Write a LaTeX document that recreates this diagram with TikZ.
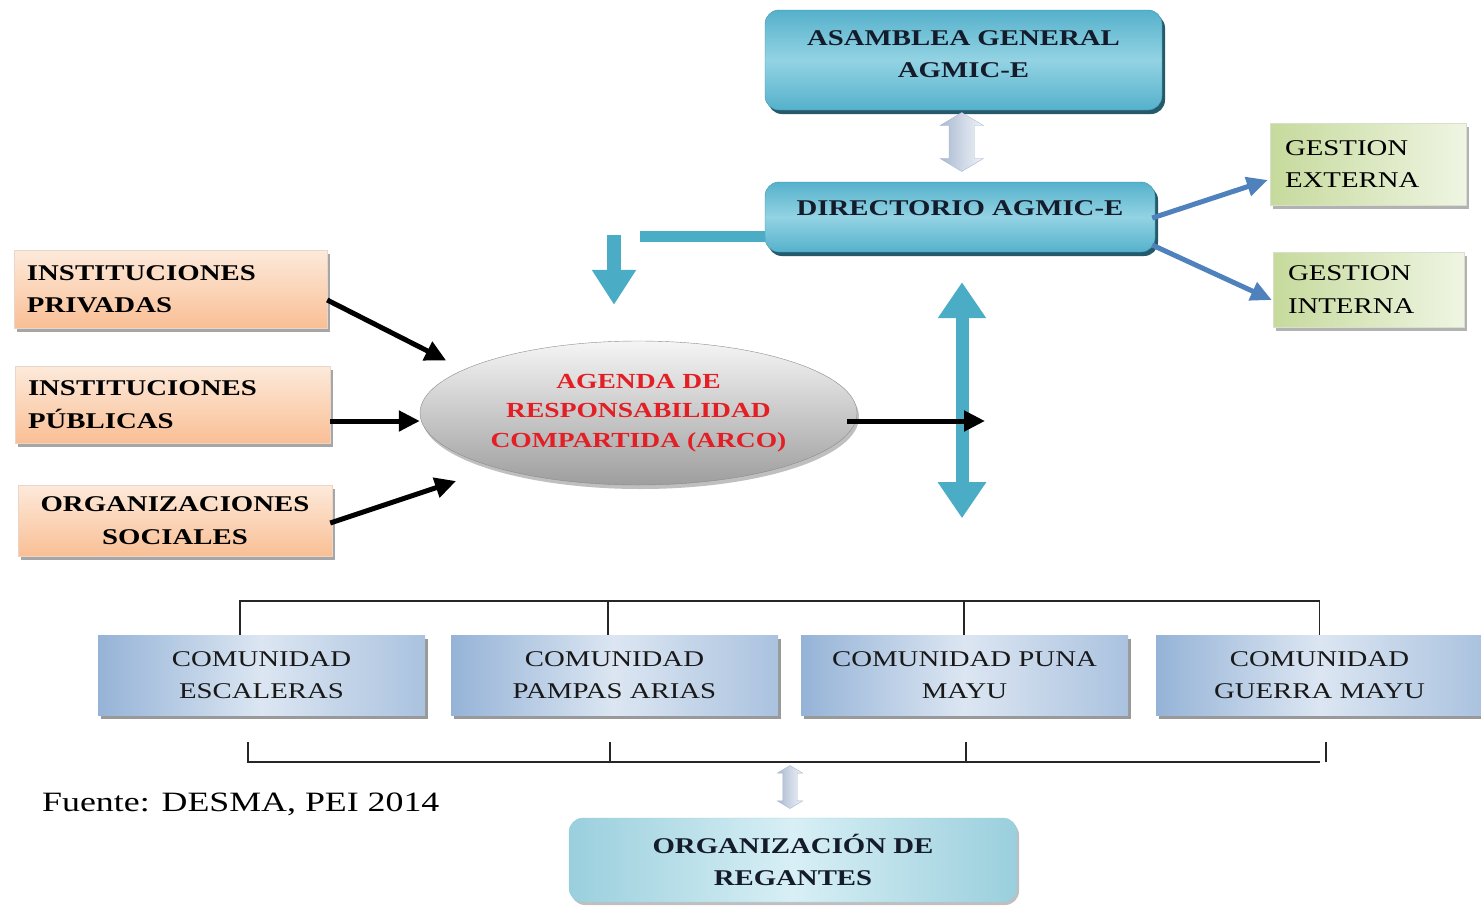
\documentclass[tikz,border=0pt]{standalone}
\usepackage{fontspec}
\setmainfont[FakeStretch=1.28]{Liberation Serif}
\usetikzlibrary{shapes.geometric,shapes.arrows,shadows,arrows.meta,calc}

\definecolor{tealtop}{HTML}{55B1CB}
\definecolor{teallight}{HTML}{93D3E3}
\definecolor{tealedge}{HTML}{3D93AC}
\definecolor{tealshadow}{HTML}{245A6B}
\definecolor{tealarrow}{HTML}{4BACC6}
\definecolor{navytext}{HTML}{141B2B}
\definecolor{orangedark}{HTML}{F9BF95}
\definecolor{orangelight}{HTML}{FDEADB}
\definecolor{greendark}{HTML}{C6DA9C}
\definecolor{greenlight}{HTML}{EFF5E3}
\definecolor{bluedark}{HTML}{95B3D7}
\definecolor{bluelight}{HTML}{DCE6F2}
\definecolor{steelblue}{HTML}{4F81BD}
\definecolor{agendared}{HTML}{E31E24}
\definecolor{regtealedge}{HTML}{9ACFDD}
\definecolor{regteallight}{HTML}{D8EFF5}
\definecolor{hollowdark}{HTML}{A9B9D0}
\definecolor{hollowlight}{HTML}{F1F4F9}

\newcommand{\boxfont}{\fontsize{22.5}{32.5}\selectfont}

\begin{document}
\begin{tikzpicture}[x=1pt,y=-1pt,
        tealbox/.style={rounded corners=14pt,draw=tealedge,top color=tealtop,bottom color=tealtop,middle color=teallight,
            drop shadow={shadow xshift=3pt,shadow yshift=-4pt,fill=tealshadow,opacity=1},
            font=\boxfont\bfseries,text=navytext,align=center,inner sep=0pt},
        orangebox/.style={draw=orangedark!80!black!40,top color=orangelight,bottom color=orangedark,
            drop shadow={shadow xshift=3pt,shadow yshift=-4pt,fill=black!35,opacity=1},
            font=\boxfont\bfseries,text=black,inner xsep=13pt,inner ysep=0pt},
        greenbox/.style={draw=greendark!80!black!40,left color=greendark,right color=greenlight,
            drop shadow={shadow xshift=3pt,shadow yshift=-4pt,fill=black!30,opacity=1},
            font=\boxfont,text=black,align=left,inner xsep=15pt,inner ysep=0pt},
        comubox/.style={left color=bluedark,right color=bluedark!80,middle color=bluelight,
            drop shadow={shadow xshift=3pt,shadow yshift=-4pt,fill=black!40,opacity=1},
            font=\boxfont,text=black!90,align=center,inner sep=0pt,minimum width=327pt,minimum height=80pt},
        dblarrow/.style={double arrow,shape border rotate=90,double arrow tip angle=118,draw=hollowdark,
            left color=hollowdark,right color=hollowlight},
        inarrow/.style={-{Triangle[width=20pt,length=21pt]},line width=5pt,black},
        outarrow/.style={-{Triangle[width=19pt,length=21pt]},line width=5pt,steelblue},
        bracket/.style={line width=1.4pt,black!85}
    ]
        \useasboundingbox (0,0) rectangle (1481,906);
        \clip (0,0) rectangle (1481,906);

        % Define the nodes
        \node[tealbox,minimum width=397pt,minimum height=100pt,text height=50pt,text depth=15pt] (asamblea) at (963.5,60) {ASAMBLEA GENERAL\\AGMIC-E};
        \node[tealbox,minimum width=390pt,minimum height=70pt,text depth=18pt] (directorio) at (960,217) {DIRECTORIO AGMIC-E};
        \node[greenbox,text width=166pt,minimum height=82pt] (gestext) at (1368,164) {GESTION\\EXTERNA};
        \node[greenbox,text width=161pt,minimum height=75pt] (gesint) at (1368.5,289.5) {GESTION\\INTERNA};

        \node[orangebox,text width=287pt,align=left,minimum height=78pt] (privadas) at (170.5,289) {INSTITUCIONES\\PRIVADAS};
        \node[orangebox,text width=289pt,align=left,minimum height=77pt] (publicas) at (172.5,404.5) {INSTITUCIONES\\PÚBLICAS};
        \node[orangebox,text width=288pt,align=center,minimum height=71pt] (sociales) at (175,520.5) {ORGANIZACIONES\\SOCIALES};

        \node[ellipse,draw=black!45,top color=black!4,bottom color=black!38,
            drop shadow={shadow xshift=2pt,shadow yshift=-4pt,fill=black!25,opacity=1},
            minimum width=437pt,minimum height=144pt,inner sep=0pt,align=center,
            font=\fontsize{21.5}{29.5}\selectfont\bfseries,text=agendared] (agenda) at (638.5,413)
            {AGENDA DE\\RESPONSABILIDAD\\COMPARTIDA (ARCO)};

        \node[comubox] (esc) at (261.5,675) {COMUNIDAD\\ESCALERAS};
        \node[comubox] (pampas) at (614.5,675) {COMUNIDAD\\PAMPAS ARIAS};
        \node[comubox] (puna) at (964.5,675) {COMUNIDAD PUNA\\MAYU};
        \node[comubox] (guerra) at (1319.5,675) {COMUNIDAD\\GUERRA MAYU};

        \node[rounded corners=14pt,draw=regtealedge,left color=regtealedge,right color=regtealedge,middle color=regteallight,
            drop shadow={shadow xshift=2pt,shadow yshift=-3pt,fill=black!25,opacity=1},
            minimum width=448pt,minimum height=84pt,inner sep=0pt,align=center,
            font=\boxfont\bfseries,text=navytext] (regantes) at (793,860) {ORGANIZACIÓN DE\\REGANTES};

        \node[anchor=west,inner sep=0pt,font=\fontsize{28}{30}\selectfont] (fuente) at (42,804) {Fuente: DESMA, PEI 2014};

        % Draw the hollow double arrows
        \node[dblarrow,inner sep=12.5pt,minimum height=59pt,minimum width=43pt,double arrow head extend=9pt] (asamdir) at ($(asamblea.south)!0.5!(directorio.north)+(0,-4)$) {};
        \node[dblarrow,inner sep=7pt,minimum height=43pt,minimum width=25pt,double arrow head extend=5.5pt] (bracketreg) at (790,787) {};

        % Draw the teal arrows
        \coordinate (bar) at (640,236);
        \coordinate (drop) at (614,235);
        \draw[line width=11pt,tealarrow] (bar) -- (bar -| directorio.west);
        \draw[line width=14pt,tealarrow,-{Triangle[width=42pt,length=35pt]}] (drop) -- (drop |- agenda.north) [shorten >=36pt];
        \coordinate (vtop) at ($(directorio.south)+(2,30)$);
        \coordinate (vbot) at ($(directorio.south)+(2,266)$);
        \draw[line width=13pt,tealarrow,{Triangle[width=46pt,length=36pt]}-{Triangle[width=46pt,length=36pt]}] (vtop) -- (vbot);

        % Draw the arrows into the agenda
        \draw[inarrow,shorten >=20pt] ($(privadas.east)+(0,11)$) -- (agenda.166);
        \draw[inarrow] ($(publicas.east)+(0,16.5)$) coordinate (pubout) -- (pubout -| agenda.west);
        \draw[inarrow,shorten >=42pt] ($(sociales.east)+(-2,2.5)$) -- (agenda.201);
        \coordinate (outend) at (985,421);
        \draw[inarrow] ($(agenda.east)+(-10,8)$) -- (outend);

        % Draw the arrows to the management boxes
        \draw[outarrow] ($(directorio.east)+(-3,1)$) -- ($(gestext.west)+(-2,16)$);
        \draw[outarrow] ($(directorio.east)+(-3,28)$) -- ($(gesint.west)+(-1,10.5)$);

        % Draw the brackets of the communities
        \coordinate (topbar) at (0,601);
        \coordinate (lowbar) at (0,762);
        \draw[bracket] ([xshift=-21.5pt]esc.north) |- (topbar -| guerra.north) -- (guerra.north);
        \draw[bracket] ([xshift=-6.5pt]pampas.north) -- ([xshift=-6.5pt]pampas.north |- topbar);
        \draw[bracket] ([xshift=-0.5pt]puna.north) -- ([xshift=-0.5pt]puna.north |- topbar);
        \draw[bracket] ([shift={(-13.5,27)}]esc.south) |- (lowbar -| guerra.south) ++(6.5,0) -- ([shift={(6.5,27)}]guerra.south);
        \draw[bracket] ([shift={(-4.5,27)}]pampas.south) -- ([xshift=-4.5pt]pampas.south |- lowbar);
        \draw[bracket] ([shift={(1.5,27)}]puna.south) -- ([xshift=1.5pt]puna.south |- lowbar);
    \end{tikzpicture}
\end{document}
